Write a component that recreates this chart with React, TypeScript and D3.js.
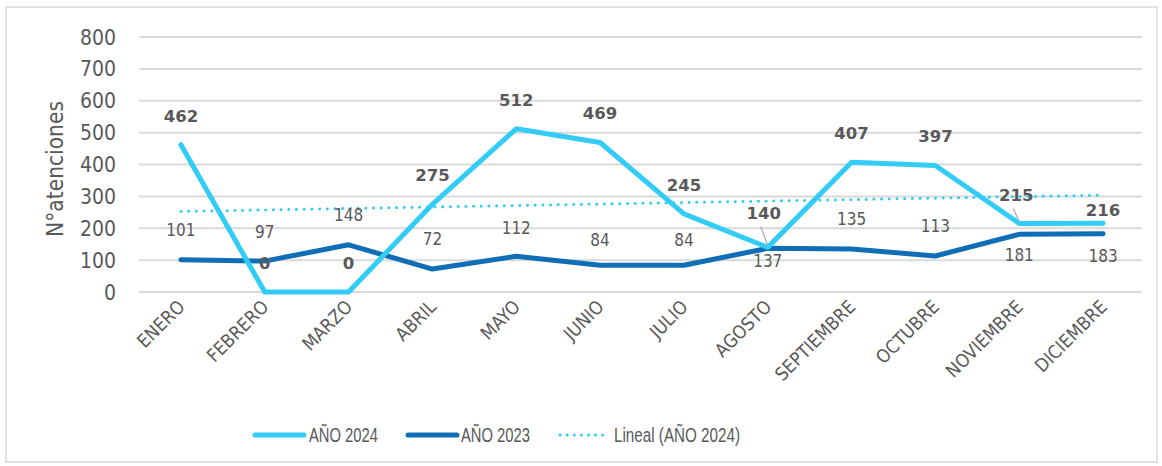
import React from "react";
import * as d3 from "d3";

const months = ["ENERO","FEBRERO","MARZO","ABRIL","MAYO","JUNIO","JULIO","AGOSTO","SEPTIEMBRE","OCTUBRE","NOVIEMBRE","DICIEMBRE"];
const values2024 = [462, 0, 0, 275, 512, 469, 245, 140, 407, 397, 215, 216];
const values2023 = [101, 97, 148, 72, 112, 84, 84, 137, 135, 113, 181, 183];
const yTicks = [0, 100, 200, 300, 400, 500, 600, 700, 800];
const legendLabels = ["AÑO 2024", "AÑO 2023", "Lineal (AÑO 2024)"];

// label placement (pixels relative to point)
const dy2024 = [-29, -29, -29, -29, -29, -29, -29, -34, -29, -29, -28, -13];
const dx2024 = [0, 0, 0, 0, 0, 0, 0, -4, 0, 0, -3, 0];
const leader2024 = [false, false, false, false, false, false, false, true, false, false, true, false];
const dy2023 = [-30, -29, -30, -30, -28, -25, -25, 13, -30, -30, 21, 22];

const C24 = "#33CCF6";
const C23 = "#106EB6";
const TXT = "#595959";

export default function App() {
  const W = 1162, H = 466;
  const left = 139, right = 1145, top = 37, bottom = 292;
  const x = d3.scaleBand<string>().domain(months).range([left, right]);
  const cx = (m: string) => (x(m) as number) + x.bandwidth() / 2;
  const y = d3.scaleLinear().domain([0, 800]).range([bottom, top]);

  const line24 = d3.line<number>().x((_, i) => cx(months[i])).y(d => y(d));
  // linear trendline (least squares) of 2024
  const n = values2024.length;
  const xs = values2024.map((_, i) => i + 1);
  const mx = d3.mean(xs) as number, my = d3.mean(values2024) as number;
  const sxy = d3.sum(xs.map((xi, i) => (xi - mx) * (values2024[i] - my)));
  const sxx = d3.sum(xs.map(xi => (xi - mx) ** 2));
  const slope = sxy / sxx, icpt = my - slope * mx;
  const trend = [icpt + slope * 1, icpt + slope * n];

  const font = "'DejaVu Sans Condensed', 'DejaVu Sans', sans-serif";
  const boldFont = "'DejaVu Sans', sans-serif";
  const legendFont = "'Liberation Sans', Arial, sans-serif";

  const legend = [
    { x0: 255, x1: 304, tx: 309, len: 69, color: C24, dash: false },
    { x0: 408, x1: 457, tx: 461, len: 69, color: C23, dash: false },
    { x0: 560, x1: 609, tx: 614, len: 126, color: C24, dash: true },
  ];

  return (
    <svg width={W} height={H} style={{ position: "absolute", left: 0, top: 0, background: "#fff" }}>
      <rect x={6} y={7} width={1151} height={455} fill="#fff" stroke="#d9d9d9" strokeWidth={1.5} />
      {yTicks.map(t => (
        <g key={t}>
          <line x1={left} x2={right - 3} y1={y(t)} y2={y(t)} stroke="#d9d9d9" strokeWidth={2} />
          <text x={116} y={y(t)} dy="0.36em" textAnchor="end" fontFamily={font} fontSize={21} fill={TXT}>{t}</text>
        </g>
      ))}
      <text transform={`translate(63,${169}) rotate(-90)`} textAnchor="middle" fontFamily={font} fontSize={22.5} fill={TXT}>N°atenciones</text>

      {months.map(m => (
        <text key={m} transform={`translate(${cx(m) + 5},${308}) rotate(-45)`} textAnchor="end" fontFamily={font} fontSize={18.5} fill={TXT}>{m}</text>
      ))}

      <line x1={cx(months[0])} x2={cx(months[n - 1])} y1={y(trend[0])} y2={y(trend[1])} stroke={C24} strokeWidth={3} strokeDasharray="0.1 7.6" strokeLinecap="round" />
      <path d={line24(values2023) || ""} fill="none" stroke={C23} strokeWidth={5} strokeLinejoin="round" strokeLinecap="round" />
      <path d={line24(values2024) || ""} fill="none" stroke={C24} strokeWidth={5} strokeLinejoin="round" strokeLinecap="round" />

      {values2023.map((v, i) => (
        <text key={"b" + i} x={cx(months[i])} y={y(v) + dy2023[i]} dy="0.36em" textAnchor="middle" fontFamily={font} fontSize={17} fill={TXT}>{v}</text>
      ))}
      {values2024.map((v, i) => (
        <g key={"a" + i}>
          {leader2024[i] && (
            <line x1={cx(months[i]) + dx2024[i] - 3} y1={y(v) + dy2024[i] + 13} x2={cx(months[i])} y2={y(v) - 2} stroke="#a6a6a6" strokeWidth={1.2} />
          )}
          <text x={cx(months[i]) + dx2024[i]} y={y(v) + dy2024[i]} dy="0.36em" textAnchor="middle" fontFamily={boldFont} fontSize={16.5} fontWeight="bold" fill={TXT}>{v}</text>
        </g>
      ))}

      <g fontFamily={legendFont} fontSize={19.5} fill={TXT}>
        {legend.map((l, i) => (
          <g key={i}>
            {l.dash ? (
              <line x1={l.x0} x2={l.x1} y1={435} y2={435} stroke={l.color} strokeWidth={3} strokeDasharray="0.1 7" strokeLinecap="round" />
            ) : (
              <line x1={l.x0} x2={l.x1} y1={435} y2={435} stroke={l.color} strokeWidth={5} strokeLinecap="round" />
            )}
            <text x={l.tx} y={435} dy="0.36em" textLength={l.len} lengthAdjust="spacingAndGlyphs">{legendLabels[i]}</text>
          </g>
        ))}
      </g>
    </svg>
  );
}
